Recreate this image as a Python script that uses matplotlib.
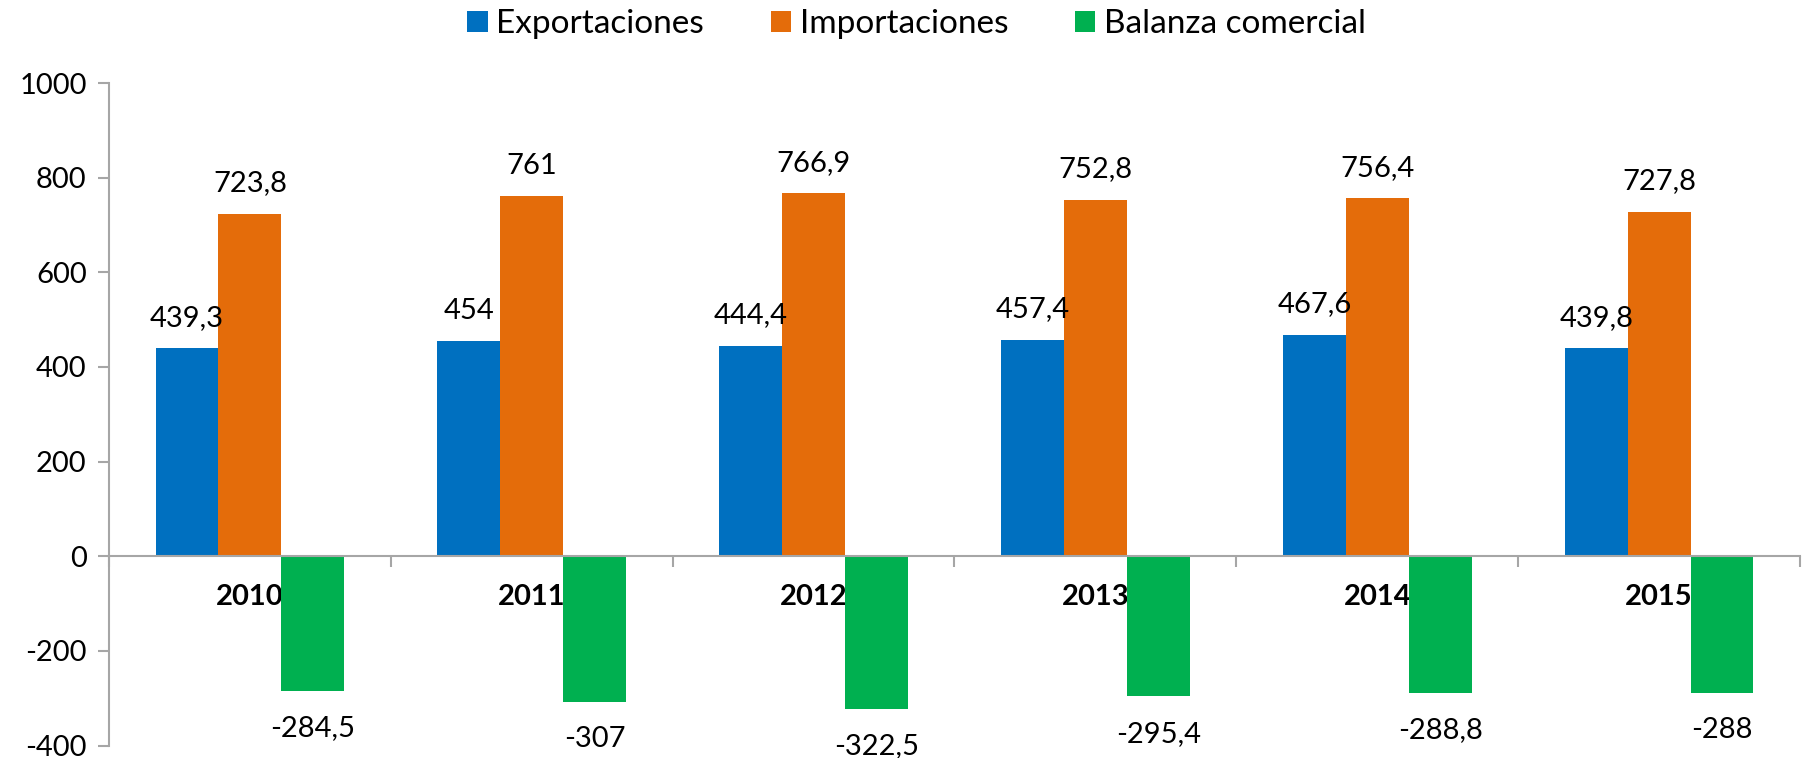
import matplotlib
matplotlib.use("Agg")
import matplotlib.pyplot as plt
import numpy as np

plt.rcParams['font.family'] = ['Lato', 'DejaVu Sans']
plt.rcParams['axes.unicode_minus'] = False

years = ['2010', '2011', '2012', '2013', '2014', '2015']
exportaciones = [439.3, 454, 444.4, 457.4, 467.6, 439.8]
importaciones = [723.8, 761, 766.9, 752.8, 756.4, 727.8]
balanza = [-284.5, -307, -322.5, -295.4, -288.8, -288]

series = [
    ("Exportaciones", exportaciones, "#0070C0"),
    ("Importaciones", importaciones, "#E46C0A"),
    ("Balanza comercial", balanza, "#00B050"),
]

def fmt(v):
    return f"{v:g}".replace('.', ',')

fig = plt.figure(figsize=(18.04, 7.58), dpi=100)
ax = fig.add_axes([0.0604, 0.0164, 0.9374, 0.8741])

x = np.arange(len(years))
w = 0.223
grey = "#A6A6A6"
fs = 21

for i, (name, vals, col) in enumerate(series):
    pos = x + (i - 1) * w
    ax.bar(pos, vals, width=w, color=col, label=name, zorder=2)
    for px, v in zip(pos, vals):
        off = 22 if v >= 0 else -27
        ax.annotate(fmt(v), (px, v), xytext=(0, off), textcoords='offset points',
                    ha='center', va='center', fontsize=fs, color='black')

ax.set_ylim(-400, 1000)
ax.set_xlim(-0.5, len(years) - 0.5)
ax.set_yticks(np.arange(-400, 1001, 200))
ax.tick_params(axis='y', direction='out', length=8, width=1.5, color=grey,
               labelsize=fs, pad=8)

ax.spines['top'].set_visible(False)
ax.spines['right'].set_visible(False)
ax.spines['left'].set_color(grey)
ax.spines['left'].set_linewidth(1.5)
ax.spines['bottom'].set_position(('data', 0))
ax.spines['bottom'].set_color(grey)
ax.spines['bottom'].set_linewidth(1.5)
ax.spines['bottom'].set_zorder(3)

# category boundaries as major ticks, year names as minor ticks
ax.set_xticks(np.arange(-0.5, len(years), 1.0))
ax.set_xticklabels([])
ax.tick_params(axis='x', which='major', direction='out', length=8, width=1.5, color=grey)
ax.set_xticks(x, minor=True)
ax.set_xticklabels(years, minor=True, fontsize=fs, fontweight='bold')
ax.tick_params(axis='x', which='minor', length=0, pad=20)

fig.legend(loc='center', bbox_to_anchor=(0.508, 0.968), ncol=3, frameon=False,
           fontsize=24, handlelength=0.62, handleheight=0.62, handletextpad=0.25,
           columnspacing=2.0)

fig.savefig("out.png", dpi=100)
